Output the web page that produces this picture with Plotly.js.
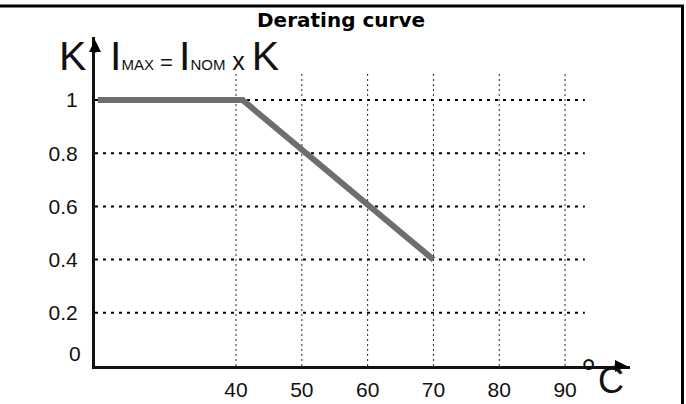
<!DOCTYPE html>
<html>
<head>
<meta charset="utf-8">
<script src="https://cdn.plot.ly/plotly-3.0.1.min.js"></script>
<style>
html,body{margin:0;padding:0;background:#fff;}
#chart{width:686px;height:404px;}
</style>
</head>
<body>
<div id="chart"></div>
<script>
// ---- data ----
const curveTemp = [19, 41, 70];
const curveK = [1, 1, 0.4];
const xTickVals = [40, 50, 60, 70, 80, 90];
const xTickText = ['40', '50', '60', '70', '80', '90'];
const yTickVals = [0.2, 0.4, 0.6, 0.8, 1];
const yTickText = ['0.2', '0.4', '0.6', '0.8', '1'];
const yZeroLabel = '0';
const chartTitle = 'Derating curve';

// ---- layout helpers ----
const W = 686, H = 404;
const M = {l: 95, r: 56, t: 37, b: 38};
const PW = W - M.l - M.r, PH = H - M.t - M.b;
const px = x => (x - M.l) / PW;
const py = y => (H - M.b - y) / PH;
const xRange = [18.57, 99.87];
const yRange = [0, 1.237];
const gridXEnd = 93;
const gridYEnd = 1.1;

const trace = {
  x: curveTemp, y: curveK, type: 'scatter', mode: 'lines',
  line: {color: '#6e6e6e', width: 6}, hoverinfo: 'skip', showlegend: false
};

const shapes = [];
yTickVals.forEach(v => shapes.push({
  type: 'line', xref: 'x', yref: 'y', x0: xRange[0], x1: gridXEnd, y0: v, y1: v,
  line: {color: '#000', width: 2, dash: '3px,5px'}, layer: 'below'
}));
xTickVals.forEach(v => shapes.push({
  type: 'line', xref: 'x', yref: 'y', x0: v, x1: v, y0: 0, y1: gridYEnd,
  line: {color: '#222244', width: 1, dash: '2px,3px'}, layer: 'below'
}));
// frame (top and right border)
shapes.push({type: 'line', xref: 'paper', yref: 'paper', x0: px(0), x1: px(684), y0: py(6), y1: py(6), line: {color: '#000', width: 3}});
shapes.push({type: 'line', xref: 'paper', yref: 'paper', x0: px(682.5), x1: px(682.5), y0: py(5), y1: py(404), line: {color: '#000', width: 3}});

const arial = 'Liberation Sans, Arial, sans-serif';
const annotations = [
  // axis arrowheads
  {xref: 'paper', yref: 'paper', x: 0, y: py(40), ax: 0, ay: 14, showarrow: true, arrowhead: 2, arrowwidth: 3, arrowsize: 0.8, arrowcolor: '#000', text: ''},
  {xref: 'paper', yref: 'paper', x: px(627), y: 0, ax: -14, ay: 0, showarrow: true, arrowhead: 2, arrowwidth: 3, arrowsize: 0.8, arrowcolor: '#000', text: ''},
  // K label
  {xref: 'paper', yref: 'paper', x: px(57), y: py(56), xanchor: 'left', yanchor: 'middle', showarrow: false,
   text: 'K', font: {family: arial, size: 41, color: '#111'}},
  // formula
  {xref: 'paper', yref: 'paper', x: px(108), y: py(56), xanchor: 'left', yanchor: 'middle', showarrow: false,
   text: 'I<span style="font-size:15px">MAX</span><span style="font-size:22px"> = </span>I<span style="font-size:15px">NOM</span><span style="font-size:25px"> x </span>K',
   font: {family: arial, size: 41, color: '#111'}},
  // zero label
  {xref: 'paper', yref: 'paper', x: px(83), y: py(353), xanchor: 'right', yanchor: 'middle', showarrow: false,
   text: yZeroLabel, font: {family: arial, size: 21, color: '#111'}},
  // degree C
  {xref: 'paper', yref: 'paper', x: px(588), y: py(373), xanchor: 'center', yanchor: 'middle', showarrow: false,
   text: '°', font: {family: arial, size: 38, color: '#111'}},
  {xref: 'paper', yref: 'paper', x: px(596), y: py(380), xanchor: 'left', yanchor: 'middle', showarrow: false,
   text: 'C', font: {family: arial, size: 36, color: '#111'}}
];

const layout = {
  width: W, height: H,
  margin: M,
  paper_bgcolor: '#fff', plot_bgcolor: '#fff',
  title: {text: '<b>' + chartTitle + '</b>', x: 341 / W, xanchor: 'center', y: 1 - 20 / H, yanchor: 'middle',
          font: {family: 'DejaVu Sans, Verdana, sans-serif', size: 20, color: '#000'}},
  xaxis: {range: xRange, showgrid: false, zeroline: false, showline: true, linewidth: 3, linecolor: '#111',
          tickvals: xTickVals, ticktext: xTickText, ticks: '', ticklabelstandoff: 3,
          tickfont: {family: arial, size: 21, color: '#111'}, fixedrange: true},
  yaxis: {range: yRange, showgrid: false, zeroline: false, showline: true, linewidth: 3, linecolor: '#111',
          tickvals: yTickVals, ticktext: yTickText, ticks: '', ticklabelstandoff: 10,
          tickfont: {family: arial, size: 21, color: '#111'}, fixedrange: true},
  shapes: shapes,
  annotations: annotations,
  showlegend: false
};

Plotly.newPlot('chart', [trace], layout, {displayModeBar: false, staticPlot: true});
</script>
</body>
</html>
